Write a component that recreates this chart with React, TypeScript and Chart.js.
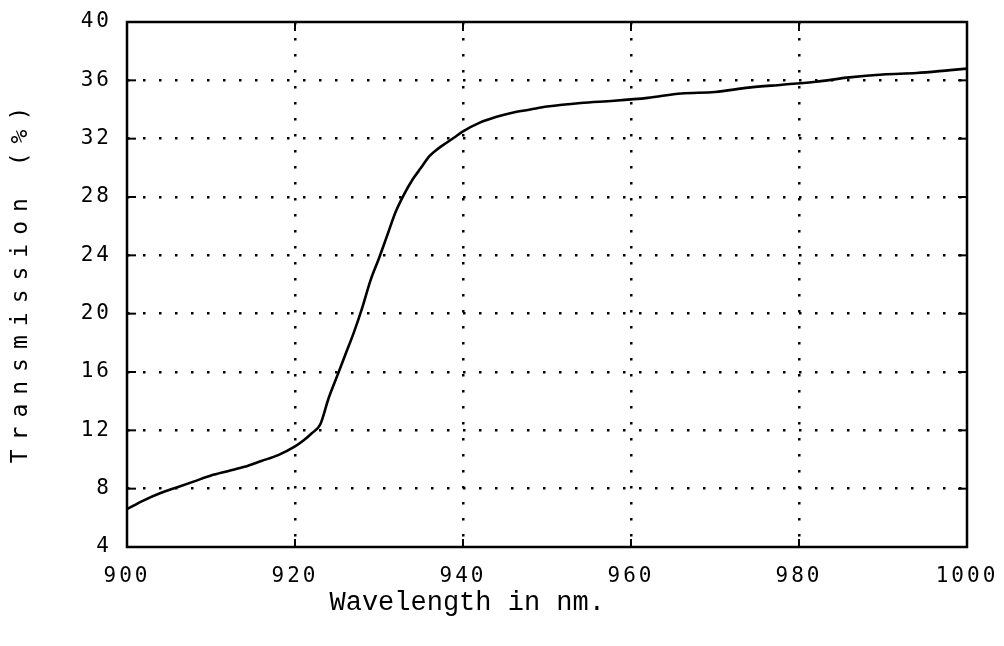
import React, { useEffect, useRef } from "react";
import { Chart, registerables } from "chart.js";

Chart.register(...registerables);

const wavelengths = [
  900, 902, 904, 906, 908, 910, 912, 914, 916, 918, 920, 921, 922, 923, 924, 925,
  926, 927, 928, 929, 930, 931, 932, 933, 934, 935, 936, 937, 938, 939, 940, 942,
  944, 946, 948, 950, 954, 958, 962, 966, 970, 974, 978, 982, 986, 990, 994, 998, 1000,
];
const transmission = [
  6.6, 7.2, 7.7, 8.1, 8.5, 8.9, 9.2, 9.5, 9.9, 10.3, 10.9, 11.3, 11.8, 12.4, 14.2, 15.7,
  17.2, 18.7, 20.4, 22.3, 23.8, 25.4, 27.0, 28.2, 29.2, 30.0, 30.8, 31.3, 31.7, 32.1, 32.5, 33.1,
  33.5, 33.8, 34.0, 34.2, 34.45, 34.6, 34.8, 35.1, 35.2, 35.5, 35.7, 35.9, 36.2, 36.4, 36.5, 36.7, 36.8,
];
const xTicks = [900, 920, 940, 960, 980, 1000];
const yTicks = [4, 8, 12, 16, 20, 24, 28, 32, 36, 40];
const yTitle = "Transmission (%)";
const xTitle = "Wavelength in nm.";

export default function App() {
  const ref = useRef<HTMLCanvasElement>(null);

  useEffect(() => {
    const canvas = ref.current;
    if (!canvas) return;

    const xMin = xTicks[0];
    const xMax = xTicks[xTicks.length - 1];
    const yMin = yTicks[0];
    const yMax = yTicks[yTicks.length - 1];

    const framePlugin = {
      id: "frame",
      beforeDraw(chart: any) {
        chart.ctx.letterSpacing = "3px";
      },
      afterDraw(chart: any) {
        const c = chart.ctx as CanvasRenderingContext2D;
        const { left, right, top, bottom } = chart.chartArea;
        const xs = chart.scales.x;
        const ys = chart.scales.y;
        c.save();
        (c as any).letterSpacing = "0px";
        c.setLineDash([]);
        c.strokeStyle = "#000";
        c.lineWidth = 2.5;
        c.strokeRect(left, top, right - left, bottom - top);
        c.lineWidth = 2;
        const seg = (x1: number, y1: number, x2: number, y2: number) => {
          c.beginPath();
          c.moveTo(x1, y1);
          c.lineTo(x2, y2);
          c.stroke();
        };
        xTicks.forEach((v) => {
          const px = xs.getPixelForValue(v);
          seg(px, bottom, px, bottom - 8);
          seg(px, top, px, top + 9);
        });
        yTicks.forEach((v) => {
          const py = ys.getPixelForValue(v);
          seg(left, py, left + 9, py);
          seg(right, py, right - 9, py);
        });
        c.fillStyle = "#000";
        c.textAlign = "center";
        c.textBaseline = "middle";
        c.font = "23px 'DejaVu Sans Mono'";
        (c as any).letterSpacing = "9px";
        c.save();
        c.translate(21, (top + bottom) / 2 - 4);
        c.rotate(-Math.PI / 2);
        c.fillText(yTitle, 0, 0);
        c.restore();
        (c as any).letterSpacing = "0px";
        c.font = "27px 'Liberation Mono'";
        c.fillText(xTitle, left + (right - left) * 0.405, 603);
        c.restore();
        (c as any).letterSpacing = "0px";
      },
    };

    const gridColor = (edgeA: number, edgeB: number) => (ctx: any) =>
      ctx.tick && (ctx.tick.value === edgeA || ctx.tick.value === edgeB)
        ? "rgba(0,0,0,0)"
        : "#000";

    const chart = new Chart(canvas, {
      type: "line",
      data: {
        datasets: [
          {
            data: wavelengths.map((w, i) => ({ x: w, y: transmission[i] })),
            borderColor: "#000",
            borderWidth: 2.6,
            pointRadius: 0,
            cubicInterpolationMode: "monotone",
            fill: false,
          },
        ],
      },
      options: {
        animation: false,
        responsive: true,
        maintainAspectRatio: false,
        layout: { padding: { top: 22, right: 37, left: 0, bottom: 0 } },
        plugins: { legend: { display: false }, tooltip: { enabled: false } },
        scales: {
          x: {
            type: "linear",
            min: xMin,
            max: xMax,
            afterBuildTicks: (s: any) => {
              s.ticks = xTicks.map((v) => ({ value: v }));
            },
            afterFit: (s: any) => {
              s.height = 99;
              s.paddingLeft = 0;
              s.paddingRight = 0;
            },
            grid: {
              color: gridColor(xMin, xMax),
              lineWidth: 2.5,
              drawTicks: false,
            },
            border: { display: false, dash: [2.5, 13.5] },
            ticks: {
              padding: 17,
              color: "#000",
              font: { family: "'DejaVu Sans Mono'", size: 21 },
              maxRotation: 0,
              autoSkip: false,
              callback: (v: any) => String(v),
            },
          },
          y: {
            type: "linear",
            min: yMin,
            max: yMax,
            afterBuildTicks: (s: any) => {
              s.ticks = yTicks.map((v) => ({ value: v }));
            },
            afterFit: (s: any) => {
              s.width = 127;
              s.paddingTop = 0;
              s.paddingBottom = 0;
            },
            grid: {
              color: gridColor(yMin, yMax),
              lineWidth: 2.5,
              drawTicks: false,
            },
            border: { display: false, dash: [2.5, 13.5] },
            ticks: {
              padding: 15,
              color: "#000",
              font: { family: "'DejaVu Sans Mono'", size: 21 },
              autoSkip: false,
              callback: (v: any) => String(v),
            },
          },
        },
      },
      plugins: [framePlugin],
    } as any);

    return () => chart.destroy();
  }, []);

  return (
    <div
      style={{
        position: "fixed",
        left: 0,
        top: 0,
        width: 1004,
        height: 646,
        background: "#fff",
      }}
    >
      <canvas ref={ref} />
    </div>
  );
}
